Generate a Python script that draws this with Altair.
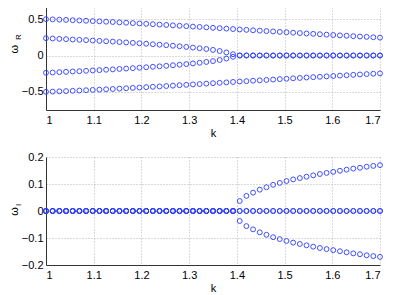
import altair as alt
import pandas as pd

# wavenumber samples
k = [1.000, 1.014, 1.028, 1.042, 1.056, 1.070, 1.084, 1.098, 1.112, 1.126,
     1.140, 1.154, 1.168, 1.182, 1.196, 1.210, 1.224, 1.238, 1.252, 1.266,
     1.280, 1.294, 1.308, 1.322, 1.336, 1.350, 1.364, 1.378, 1.392, 1.406,
     1.420, 1.434, 1.448, 1.462, 1.476, 1.490, 1.504, 1.518, 1.532, 1.546,
     1.560, 1.574, 1.588, 1.602, 1.616, 1.630, 1.644, 1.658, 1.672, 1.686,
     1.700]

# real parts (top panel)
wr_outer_pos = [0.500, 0.497, 0.493, 0.490, 0.486, 0.482, 0.478, 0.474, 0.470, 0.465,
                0.461, 0.456, 0.451, 0.446, 0.441, 0.436, 0.431, 0.426, 0.420, 0.415,
                0.409, 0.404, 0.398, 0.393, 0.387, 0.381, 0.376, 0.370, 0.364, 0.358,
                0.353, 0.347, 0.342, 0.336, 0.331, 0.325, 0.320, 0.314, 0.309, 0.303,
                0.298, 0.293, 0.287, 0.282, 0.277, 0.272, 0.266, 0.261, 0.256, 0.251,
                0.246]
wr_outer_neg = [-0.500, -0.497, -0.493, -0.490, -0.486, -0.482, -0.478, -0.474, -0.470, -0.465,
                -0.461, -0.456, -0.451, -0.446, -0.441, -0.436, -0.431, -0.426, -0.420, -0.415,
                -0.409, -0.404, -0.398, -0.393, -0.387, -0.381, -0.376, -0.370, -0.364, -0.358,
                -0.353, -0.347, -0.342, -0.336, -0.331, -0.325, -0.320, -0.314, -0.309, -0.303,
                -0.298, -0.293, -0.287, -0.282, -0.277, -0.272, -0.266, -0.261, -0.256, -0.251,
                -0.246]
wr_inner_pos = [0.238, 0.234, 0.229, 0.225, 0.220, 0.216, 0.211, 0.206, 0.201, 0.196,
                0.191, 0.185, 0.180, 0.174, 0.168, 0.162, 0.155, 0.149, 0.142, 0.134,
                0.127, 0.118, 0.109, 0.100, 0.089, 0.077, 0.062, 0.042, 0.018, 0.0,
                0.0, 0.0, 0.0, 0.0, 0.0, 0.0, 0.0, 0.0, 0.0, 0.0,
                0.0, 0.0, 0.0, 0.0, 0.0, 0.0, 0.0, 0.0, 0.0, 0.0,
                0.0]
wr_inner_neg = [-0.238, -0.234, -0.229, -0.225, -0.220, -0.216, -0.211, -0.206, -0.201, -0.196,
                -0.191, -0.185, -0.180, -0.174, -0.168, -0.162, -0.155, -0.149, -0.142, -0.134,
                -0.127, -0.118, -0.109, -0.100, -0.089, -0.077, -0.062, -0.042, -0.018, 0.0,
                0.0, 0.0, 0.0, 0.0, 0.0, 0.0, 0.0, 0.0, 0.0, 0.0,
                0.0, 0.0, 0.0, 0.0, 0.0, 0.0, 0.0, 0.0, 0.0, 0.0,
                0.0]

# imaginary parts (bottom panel)
wi_outer = [0.0, 0.0, 0.0, 0.0, 0.0, 0.0, 0.0, 0.0, 0.0, 0.0,
            0.0, 0.0, 0.0, 0.0, 0.0, 0.0, 0.0, 0.0, 0.0, 0.0,
            0.0, 0.0, 0.0, 0.0, 0.0, 0.0, 0.0, 0.0, 0.0, 0.0,
            0.0, 0.0, 0.0, 0.0, 0.0, 0.0, 0.0, 0.0, 0.0, 0.0,
            0.0, 0.0, 0.0, 0.0, 0.0, 0.0, 0.0, 0.0, 0.0, 0.0,
            0.0]
wi_inner_pos = [0.0, 0.0, 0.0, 0.0, 0.0, 0.0, 0.0, 0.0, 0.0, 0.0,
                0.0, 0.0, 0.0, 0.0, 0.0, 0.0, 0.0, 0.0, 0.0, 0.0,
                0.0, 0.0, 0.0, 0.0, 0.0, 0.0, 0.0, 0.0, 0.0, 0.037,
                0.056, 0.068, 0.079, 0.088, 0.097, 0.104, 0.111, 0.117, 0.122, 0.127,
                0.132, 0.137, 0.141, 0.145, 0.149, 0.153, 0.157, 0.160, 0.164, 0.167,
                0.170]
wi_inner_neg = [0.0, 0.0, 0.0, 0.0, 0.0, 0.0, 0.0, 0.0, 0.0, 0.0,
                0.0, 0.0, 0.0, 0.0, 0.0, 0.0, 0.0, 0.0, 0.0, 0.0,
                0.0, 0.0, 0.0, 0.0, 0.0, 0.0, 0.0, 0.0, 0.0, -0.037,
                -0.056, -0.068, -0.079, -0.088, -0.097, -0.104, -0.111, -0.117, -0.122, -0.127,
                -0.132, -0.137, -0.141, -0.145, -0.149, -0.153, -0.157, -0.160, -0.164, -0.167,
                -0.170]

x_ticks = [1.0, 1.1, 1.2, 1.3, 1.4, 1.5, 1.6, 1.7]
yr_ticks = [-0.5, 0.0, 0.5]
yi_ticks = [-0.2, -0.1, 0.0, 0.1, 0.2]
x_title = "k"
y_symbol = "ω"
subscripts = ["R", "I"]

FONT = "Liberation Sans"
BLUE = "#2b3cff"


def long_df(series):
    rows = []
    for name, vals in series:
        for kk, v in zip(k, vals):
            rows.append({"k": kk, "w": v, "branch": name})
    return pd.DataFrame(rows)


df_top = long_df([("outer+", wr_outer_pos), ("inner+", wr_inner_pos),
                  ("inner-", wr_inner_neg), ("outer-", wr_outer_neg)])
df_bot = long_df([("outer+", wi_outer), ("inner+", wi_inner_pos),
                  ("inner-", wi_inner_neg), ("outer-", wi_outer)])


def panel(df, ydom, yticks, sub, h, wpos, spos):
    pts = alt.Chart(df).mark_point(
        shape="circle", filled=False, color=BLUE, size=24, strokeWidth=1, opacity=0.9
    ).encode(
        x=alt.X("k:Q", scale=alt.Scale(domain=[1.0, 1.7], nice=False, zero=False),
                axis=alt.Axis(values=x_ticks, format="~g", title=x_title,
                              labelPadding=4, titlePadding=2)),
        y=alt.Y("w:Q", scale=alt.Scale(domain=ydom, nice=False, zero=False),
                axis=alt.Axis(values=yticks, format="~g", title=y_symbol,
                              titleAngle=270, titleAlign="center", titleBaseline="middle",
                              titleX=wpos[0], titleY=wpos[1], titleFontSize=11,
                              labelPadding=3)),
        detail="branch:N",
    )
    subtxt = alt.Chart(pd.DataFrame({"t": [sub]})).mark_text(
        angle=270, font=FONT, fontSize=8, color="#000000", align="center", baseline="middle"
    ).encode(x=alt.value(spos[0]), y=alt.value(spos[1]), text="t:N")
    return alt.layer(pts, subtxt).properties(width=334, height=h)


top = panel(df_top, [-0.75, 0.75], yr_ticks, subscripts[0], 109, (-31.5, 47.6), (-27.5, 36))
bot = panel(df_bot, [-0.2, 0.2], yi_ticks, subscripts[1], 108, (-31.5, 54), (-27.5, 48))

chart = alt.vconcat(top, bot, spacing=11).properties(
    padding={"left": 0, "top": -8, "right": 0, "bottom": 0}
).configure_view(stroke="transparent").configure_axis(
    labelFont=FONT, titleFont=FONT, labelFontSize=11, titleFontSize=11,
    labelColor="#000000", titleColor="#000000", titleFontWeight="normal",
    domainColor="#333333", domainWidth=1, ticks=False, tickSize=0,
    grid=True, gridColor="#b5b5b5", gridDash=[1, 2], gridWidth=1,
)

chart.save("out.html", embed_options={"renderer": "svg", "actions": False})
